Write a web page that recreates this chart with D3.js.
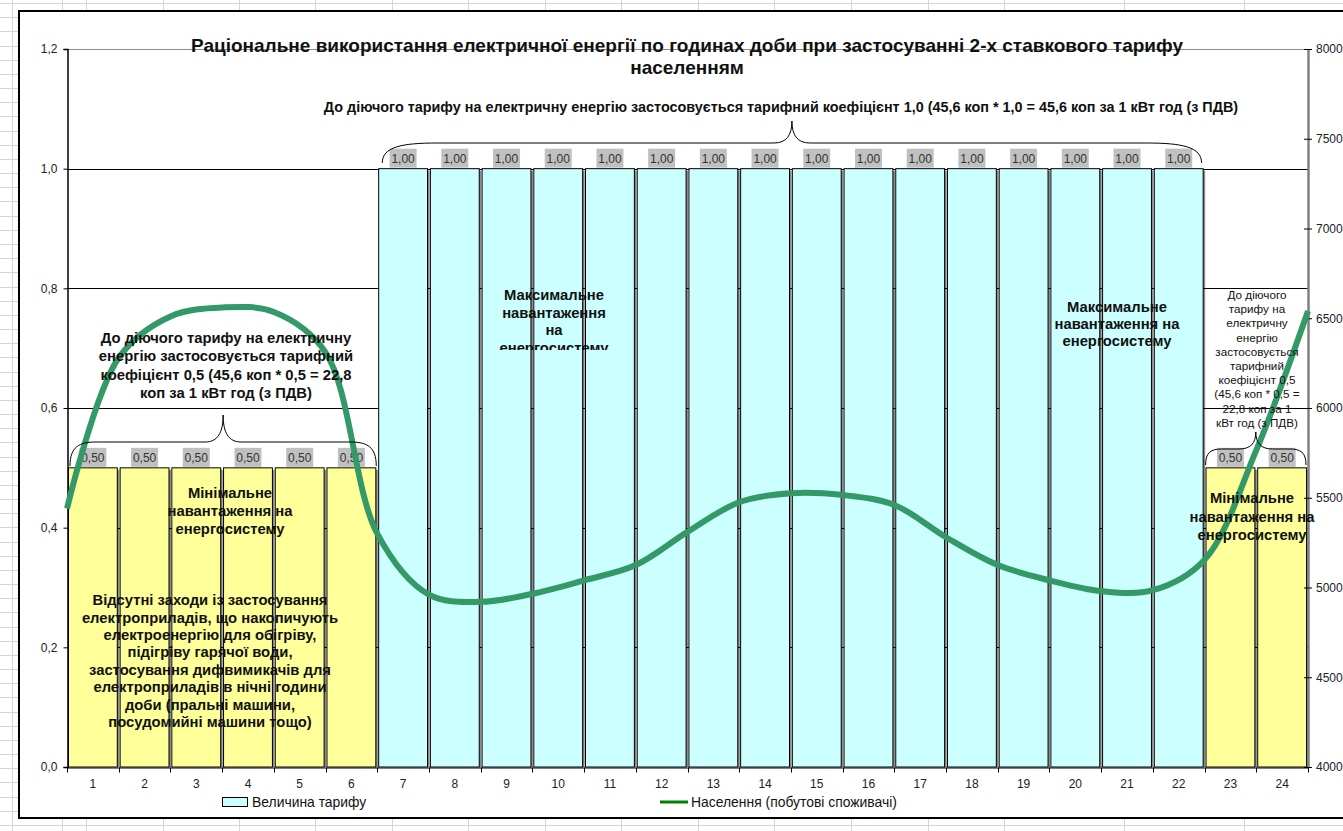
<!DOCTYPE html>
<html>
<head>
<meta charset="utf-8">
<script src="https://cdn.jsdelivr.net/npm/d3@7"></script>
<style>
  html, body { margin: 0; padding: 0; background: #fff; }
  svg { display: block; font-family: "Liberation Sans", Arial, sans-serif; }
</style>
</head>
<body>
<svg id="chart" width="1343" height="831"></svg>
<script>
// ---- data ----
const hours = d3.range(1, 25);
const tariff = [0.5, 0.5, 0.5, 0.5, 0.5, 0.5,
                1, 1, 1, 1, 1, 1, 1, 1, 1, 1, 1, 1, 1, 1, 1, 1,
                0.5, 0.5];
// household consumption, sampled at the hour boundaries 0..24
const lineHours = d3.range(0, 25);
const population = [5440, 6280, 6510, 6560, 6535, 6310, 5300, 4960, 4920, 4965,
                    5040, 5125, 5310, 5475, 5525, 5515, 5460, 5280, 5125, 5040,
                    4980, 4985, 5155, 5765, 6540];
const leftTicks = [0, 0.2, 0.4, 0.6, 0.8, 1.0, 1.2];
const rightTicks = [4000, 4500, 5000, 5500, 6000, 6500, 7000, 7500, 8000];

const titleLines = [
  "Раціональне використання електричної енергії по годинах доби при застосуванні 2-х ставкового тарифу",
  "населенням"
];
const peakNote = "До діючого тарифу на електричну енергію застосовується тарифний коефіцієнт 1,0 (45,6 коп * 1,0 = 45,6 коп за 1 кВт год (з ПДВ)";
const nightNote = ["До діючого тарифу на електричну", "енергію застосовується тарифний",
                   "коефіцієнт 0,5 (45,6 коп * 0,5 = 22,8", "коп за 1 кВт год (з ПДВ)"];
const lateNote = ["До діючого", "тарифу на", "електричну", "енергію", "застосовується",
                  "тарифний", "коефіцієнт 0,5", "(45,6 коп * 0,5 =", "22,8 коп за 1", "кВт год (з ПДВ)"];
const minLoad = ["Мінімальне", "навантаження на", "енергосистему"];
const maxLoadA = ["Максимальне", "навантаження", "на", "енергосистему"];
const maxLoadB = ["Максимальне", "навантаження на", "енергосистему"];
const noMeasures = ["Відсутні заходи із застосування", "електроприладів, що накопичують",
                    "електроенергію для обігріву,", "підігріву гарячої води,",
                    "застосування дифвимикачів для", "електроприладів в нічні години",
                    "доби (пральні машини,", "посудомийні машини тощо)"];
const legendBars = "Величина тарифу";
const legendLine = "Населення (побутові споживачі)";

// ---- layout ----
const W = 1343, H = 831;
const plot = { left: 67, right: 1308, top: 49, bottom: 767 };
const loc = d3.formatLocale({ decimal: ",", thousands: " ", grouping: [3], currency: ["", ""] });
const fmtAxis = loc.format(".1f");
const fmtLabel = loc.format(".2f");
const FONT = "Liberation Sans, Arial, sans-serif";

const svg = d3.select("#chart");

// worksheet cells around the chart object
const sheet = svg.append("g").attr("stroke", "#d4d4d4").attr("stroke-width", 1);
const colLines = [12, 62, 86, 163, 239, 315, 392, 468, 545, 621, 698, 774, 851, 928, 1004, 1124, 1244];
colLines.forEach(x => sheet.append("line").attr("x1", x + 0.5).attr("x2", x + 0.5).attr("y1", 0).attr("y2", H));
d3.range(3.1, H, 14.17).forEach(y => sheet.append("line")
  .attr("x1", 0).attr("x2", W).attr("y1", Math.round(y) + 0.5).attr("y2", Math.round(y) + 0.5));

// chart area
svg.append("rect").attr("x", 19).attr("y", 11).attr("width", W + 10).attr("height", 807)
  .attr("fill", "#fff").attr("stroke", "#000").attr("stroke-width", 2);

// scales
const x = d3.scaleBand().domain(hours).range([plot.left, plot.right])
  .paddingInner(0.055).paddingOuter(0.0275);
const xCat = d3.scaleBand().domain(hours).range([plot.left, plot.right]);
const xHour = d3.scaleLinear().domain([0, 24]).range([plot.left, plot.right]);
const yL = d3.scaleLinear().domain([0, 1.2]).range([plot.bottom, plot.top]);
const yR = d3.scaleLinear().domain([4000, 8000]).range([plot.bottom, plot.top]);

// horizontal gridlines
svg.append("g").selectAll("line").data(leftTicks.filter(t => t > 0 && t < 1.2)).join("line")
  .attr("x1", plot.left).attr("x2", plot.right)
  .attr("y1", d => Math.round(yL(d)) + 0.5).attr("y2", d => Math.round(yL(d)) + 0.5)
  .attr("stroke", "#000").attr("stroke-width", 1);
svg.append("line").attr("x1", plot.left).attr("x2", plot.right)
  .attr("y1", plot.top + 0.5).attr("y2", plot.top + 0.5).attr("stroke", "#8c8c8c");

// bar shadows and bars
const barData = hours.map((h, i) => ({ h, v: tariff[i] }));
const colorOf = v => v >= 1 ? "#ccffff" : "#ffff99";
svg.append("g").selectAll("rect").data(barData).join("rect")
  .attr("x", d => x(d.h) + 2).attr("y", d => yL(d.v) + 2)
  .attr("width", x.bandwidth()).attr("height", d => yL(0) - yL(d.v) - 2)
  .attr("fill", "#8a8a8a");
// gridline notches visible in the gaps
svg.append("g").selectAll("line").data(leftTicks.filter(t => t > 0 && t < 1)).join("line")
  .attr("x1", plot.left).attr("x2", plot.right)
  .attr("y1", d => Math.round(yL(d)) + 0.5).attr("y2", d => Math.round(yL(d)) + 0.5)
  .attr("stroke", "#000").attr("stroke-width", 1);
svg.append("g").selectAll("rect").data(barData).join("rect")
  .attr("x", d => x(d.h)).attr("y", d => yL(d.v))
  .attr("width", x.bandwidth()).attr("height", d => yL(0) - yL(d.v))
  .attr("fill", d => colorOf(d.v)).attr("stroke", "#000").attr("stroke-width", 1);

// left axis
const axL = svg.append("g").attr("transform", `translate(${plot.left + 0.5},0)`)
  .call(d3.axisLeft(yL).tickValues(leftTicks).tickFormat(fmtAxis).tickSize(4).tickPadding(6));
axL.select(".domain").attr("stroke", "#000").attr("stroke-width", 1.5);
axL.selectAll("text").attr("font-size", 12).attr("fill", "#222").attr("font-family", FONT);

// right axis (cross ticks)
const axR = svg.append("g").attr("transform", `translate(${plot.right},0)`)
  .call(d3.axisRight(yR).tickValues(rightTicks).tickFormat(d3.format("d")).tickSize(4).tickSizeOuter(0).tickPadding(4));
axR.select(".domain").attr("stroke", "#808080").attr("stroke-width", 2.5);
axR.selectAll(".tick line").attr("x1", -4).attr("stroke", "#000");
axR.selectAll("text").attr("font-size", 12).attr("fill", "#222").attr("font-family", FONT);

// bottom axis: ticks on category boundaries
const axB = svg.append("g").attr("transform", `translate(0,${plot.bottom + 0.5})`)
  .call(d3.axisBottom(xCat).tickSize(0).tickPadding(12));
axB.select(".domain").attr("stroke", "#000").attr("stroke-width", 1.2);
axB.selectAll("text").attr("font-size", 12).attr("fill", "#222").attr("font-family", FONT);
axB.append("g").selectAll("line").data(d3.range(0, 25)).join("line")
  .attr("x1", d => Math.round(xHour(d)) + 0.5).attr("x2", d => Math.round(xHour(d)) + 0.5)
  .attr("y1", 0).attr("y2", 5).attr("stroke", "#000");

// value labels on grey boxes
const lab = svg.append("g").selectAll("g").data(barData).join("g")
  .attr("transform", d => `translate(${x(d.h) + x.bandwidth() / 2},${yL(d.v)})`);
lab.append("rect").attr("x", -13.5).attr("y", -20).attr("width", 27).attr("height", 19).attr("fill", "#c0c0c0");
lab.append("text").attr("y", -10).attr("dy", "0.35em").attr("text-anchor", "middle")
  .attr("font-size", 12).attr("fill", "#333").text(d => fmtLabel(d.v));

// consumption line on the secondary axis
svg.append("path").datum(lineHours.map((h, i) => [h, population[i]]))
  .attr("fill", "none").attr("stroke", "#339966").attr("stroke-width", 6)
  .attr("stroke-linejoin", "round")
  .attr("d", d3.line().x(d => xHour(d[0])).y(d => yR(d[1])).curve(d3.curveCatmullRom));

// curly braces over hour groups
function brace(xa, xb, yEnd, yH, yTop, r) {
  const xm = (xa + xb) / 2, k = Math.min(18, (xm - xa) / 3);
  return `M${xa},${yEnd} C${xa},${yH + (yEnd - yH) * 0.2} ${xa + r * 0.35},${yH} ${xa + r},${yH}` +
         ` L${xm - k},${yH} C${xm - k * 0.3},${yH} ${xm},${yH - (yH - yTop) * 0.35} ${xm},${yTop}` +
         ` C${xm},${yH - (yH - yTop) * 0.35} ${xm + k * 0.3},${yH} ${xm + k},${yH}` +
         ` L${xb - r},${yH} C${xb - r * 0.35},${yH} ${xb},${yH + (yEnd - yH) * 0.2} ${xb},${yEnd}`;
}
const br = svg.append("g").attr("fill", "none").attr("stroke", "#000").attr("stroke-width", 1);
br.append("path").attr("d", brace(xCat(1) + 3, xCat(6) + xCat.bandwidth() - 1, 466, 442, 415, 26));
br.append("path").attr("d", brace(xCat(7) + 5, xCat(22) + xCat.bandwidth() - 3, 163, 143, 121, 55));
br.append("path").attr("d", brace(xCat(23) + 1, xCat(24) + xCat.bandwidth() - 2, 465, 449, 432, 16));

// multi-line text blocks
function block(lines, cx, cy0, lh, size, weight, clipId) {
  const g = svg.append("g");
  if (clipId) g.attr("clip-path", `url(#${clipId})`);
  g.selectAll("text").data(lines).join("text")
    .attr("x", cx).attr("y", (d, i) => cy0 + i * lh).attr("dy", "0.35em")
    .attr("text-anchor", "middle").attr("font-size", size).attr("font-weight", weight)
    .attr("fill", "#111").text(d => d);
}
svg.append("defs").append("clipPath").attr("id", "maxClip")
  .append("rect").attr("x", 470).attr("y", 280).attr("width", 170).attr("height", 70);

block(nightNote, 226, 338, 18.3, 14.8, "bold");
block(minLoad, 230, 493, 17.8, 14.8, "bold");
block(noMeasures, 210, 600, 17.4, 14.8, "bold");
block(maxLoadA, 554, 295, 17.5, 14.8, "bold", "maxClip");
block(maxLoadB, 1117, 307, 17, 14.8, "bold");
block(minLoad, 1252, 498, 18.5, 14.8, "bold");
block(lateNote, 1257, 295, 14.2, 11.7, "normal");
block([peakNote], 781, 107, 0, 14.4, "bold");

// title
block(titleLines, 687, 45, 22, 19, "bold");

// legend
const lg = svg.append("g").attr("font-size", 13.9).attr("fill", "#111");
lg.append("rect").attr("x", 222.5).attr("y", 797.5).attr("width", 25).attr("height", 9)
  .attr("fill", "#ccffff").attr("stroke", "#000");
lg.append("text").attr("x", 252).attr("y", 802).attr("dy", "0.35em").text(legendBars);
lg.append("line").attr("x1", 660).attr("x2", 688).attr("y1", 802).attr("y2", 802)
  .attr("stroke", "#008000").attr("stroke-width", 3);
lg.append("text").attr("x", 691).attr("y", 802).attr("dy", "0.35em").text(legendLine);
</script>
</body>
</html>
